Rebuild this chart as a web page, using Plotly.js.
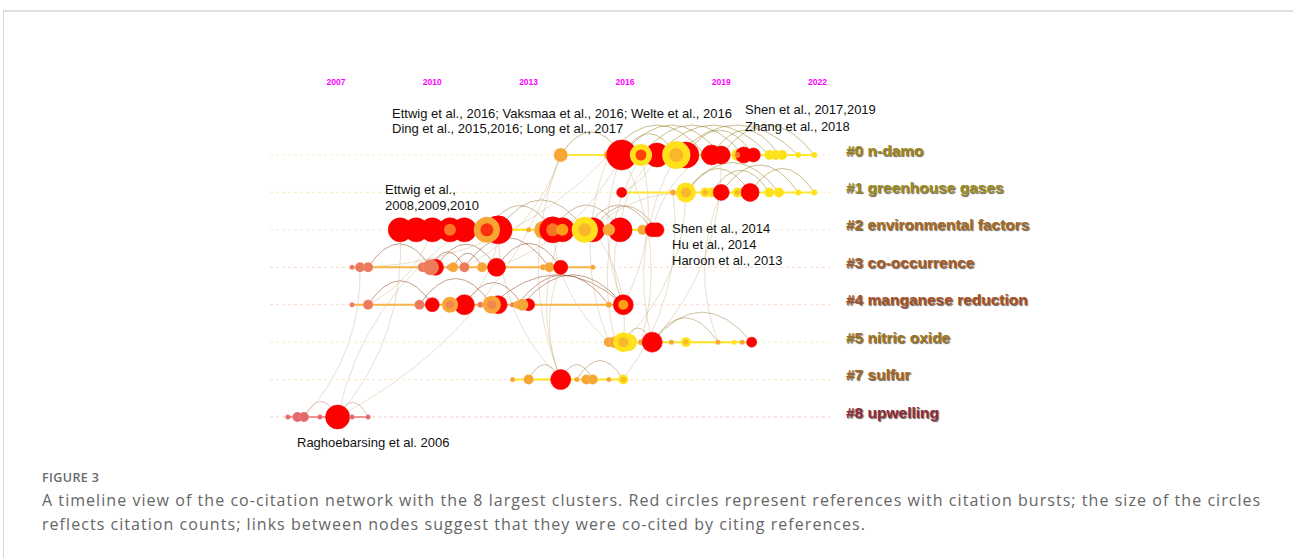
<!DOCTYPE html>
<html><head><meta charset="utf-8">
<script src="https://cdn.plot.ly/plotly-3.0.1.min.js"></script>
<style>html,body{margin:0;padding:0;background:#fff}#chart{width:1293px;height:558px}
text[data-unformatted^="A timeline"], text[data-unformatted^="reflects"]{letter-spacing:1.05px}
text[data-unformatted="FIGURE 3"]{letter-spacing:0.4px}
</style>
</head><body><div id="chart"></div>
<script>
// ---------- DATA ----------
const tickYears = [2007, 2010, 2013, 2016, 2019, 2022];
const clusterLabels = ['#0 n-damo', '#1 greenhouse gases', '#2 environmental factors', '#3 co-occurrence',
  '#4 manganese reduction', '#5 nitric oxide', '#7 sulfur', '#8 upwelling'];

const c0Years = [2014.0, 2015.5, 2015.9, 2017.0, 2016.5, 2017.9, 2017.6, 2018.5, 2018.7, 2019.0, 2019.5, 2019.7, 2020.0, 2020.5, 2020.7, 2020.9, 2021.4, 2021.9];
const c0Sizes = [14, 10, 30, 24, 22, 26, 28, 10, 20, 18, 12, 16, 14, 10, 10, 10, 6, 6];
const c0Colors = ['O','O','R','R','Y','R','Y','O','R','R','Y','R','R','Y','Y','Y','Y','Y'];
const c0Cores = ['','','','','R','','O','','','','O','','','','','','',''];

const c1Years = [2015.9, 2017.5, 2017.9, 2018.5, 2018.7, 2019.0, 2019.5, 2019.7, 2019.9, 2020.5, 2020.8, 2021.4, 2021.9];
const c1Sizes = [10, 6, 20, 10, 10, 16, 10, 10, 18, 10, 10, 6, 6];
const c1Colors = ['R','O','Y','Y','Y','R','Y','Y','R','Y','Y','Y','Y'];
const c1Cores = ['','','O','O','','','O','','','','','',''];

const c2Years = [2009.0, 2009.5, 2010.0, 2010.55, 2011.0, 2012.05, 2011.7, 2013.0, 2013.45, 2014.05, 2013.75, 2015.0, 2014.75, 2015.85, 2015.5, 2016.55, 2016.85, 2017.0];
const c2Sizes = [24, 24, 24, 24, 24, 28, 26, 5, 18, 24, 26, 24, 26, 24, 12, 10, 14, 14];
const c2Colors = ['R','R','R','R','R','R','O','O','O','R','R','R','Y','R','O','O','R','R'];
const c2Cores = ['','','','O','','','R','','','Y','O','','O','','','','',''];

const c3Years = [2007.5, 2007.75, 2008.0, 2010.1, 2009.7, 2009.95, 2010.55, 2010.65, 2011.0, 2011.55, 2012.0, 2013.45, 2013.65, 2014.0, 2015.0];
const c3Sizes = [5, 10, 10, 16, 10, 16, 6, 10, 10, 10, 18, 6, 10, 14, 5];
const c3Colors = ['C','C','C','R','C','C','C','O','C','O','R','O','O','R','O'];
const c3Cores = ['','','','','','','','','','','','','','',''];

const c4Years = [2007.5, 2008.0, 2009.6, 2010.0, 2011.0, 2010.55, 2011.5, 2012.05, 2011.85, 2012.5, 2013.0, 2012.65, 2012.8, 2015.5, 2015.95];
const c4Sizes = [5, 10, 10, 14, 20, 16, 6, 18, 18, 5, 12, 8, 12, 6, 20];
const c4Colors = ['C','C','C','R','R','O','C','R','O','C','R','O','O','O','R'];
const c4Cores = ['','','','','','C','','','C','','','','','','Y'];

const c5Years = [2015.5, 2015.7, 2016.1, 2015.95, 2016.5, 2016.85, 2017.45, 2017.9, 2018.9, 2019.4, 2019.65, 2019.95];
const c5Sizes = [10, 12, 18, 20, 6, 20, 5, 10, 5, 5, 5, 10];
const c5Colors = ['O','O','Y','Y','O','R','O','Y','O','Y','O','R'];
const c5Cores = ['','','','O','','','','O','','','',''];

const c7Years = [2012.5, 2013.0, 2014.0, 2014.5, 2014.8, 2015.0, 2015.5, 2015.95];
const c7Sizes = [5, 10, 20, 5, 10, 10, 5, 10];
const c7Colors = ['O','O','R','O','O','O','O','Y'];
const c7Cores = ['','','','','','','','O'];

const c8Years = [2005.5, 2005.8, 2006.0, 2006.5, 2007.05, 2007.5, 2008.0];
const c8Sizes = [5, 10, 10, 5, 24, 5, 5];
const c8Colors = ['P','P','P','P','R','P','P'];
const c8Cores = ['','','','','','',''];

// same-row co-citation arcs: [fromYear, toYear]
const arcs0 = [[2015.9,2017.6],[2015.9,2019.0],[2016.5,2019.7],[2017.0,2020.5],[2017.6,2021.4],[2018.7,2020.8],[2019.0,2021.9],[2015.5,2018.5],[2017.9,2020.0],[2014.0,2015.9]];
const arcs1 = [[2017.9,2019.9],[2018.7,2020.5],[2019.0,2021.4],[2017.9,2020.8],[2019.9,2021.9]];
const arcs2 = [[2011.7,2013.75],[2012.05,2014.75],[2013.75,2015.85],[2014.75,2016.85],[2015.0,2017.0]];
const arcs3 = [[2008.0,2009.95],[2009.95,2011.0],[2010.1,2012.0],[2010.65,2011.55],[2011.0,2013.65],[2012.0,2014.0]];
const arcs4 = [[2008.0,2010.0],[2009.6,2011.85],[2011.0,2012.8],[2011.85,2015.95],[2012.8,2015.95],[2012.65,2015.5]];
const arcs5 = [[2016.85,2018.9],[2016.85,2019.95],[2015.95,2016.85]];
const arcs7 = [[2013.0,2014.0],[2014.0,2015.0],[2014.5,2015.95]];
const arcs8 = [[2006.0,2007.05],[2007.05,2008.0]];

// cross-cluster links: [fromRow, fromYear, toRow, toYear]
const crossLinks = [[0,2015.9,4,2015.95],[0,2016.5,5,2015.7],[0,2015.5,5,2015.5],[0,2014.0,6,2014.0],[2,2014.05,6,2014.0],
  [2,2012.05,6,2014.0],[2,2015.85,4,2015.95],[0,2017.0,2,2015.85],[1,2015.9,0,2017.0],[7,2007.05,2,2009.0],
  [7,2007.05,0,2014.0],[7,2006.0,3,2007.75],[3,2008.0,0,2015.5],[4,2008.0,2,2010.0],[5,2015.95,2,2015.0],
  [5,2016.5,0,2015.9],[1,2019.0,5,2018.9],[4,2015.95,0,2016.5],[3,2012.0,0,2015.9],[4,2011.0,2,2012.05],
  [6,2015.95,1,2017.5],[3,2014.0,6,2014.0],[5,2015.95,1,2017.9],[2,2013.75,5,2015.5],[0,2017.6,5,2016.85],
  [2,2011.0,7,2007.05],[0,2018.5,2,2016.85],[1,2017.9,2,2015.0],[5,2016.85,0,2019.0],[3,2011.0,0,2014.0]];

const refNotes = ['Ettwig et al., 2016; Vaksmaa et al., 2016; Welte et al., 2016', 'Ding et al., 2015,2016; Long et al., 2017',
  'Shen et al., 2017,2019', 'Zhang et al., 2018', 'Ettwig et al.,', '2008,2009,2010',
  'Shen et al., 2014', 'Hu et al., 2014', 'Haroon et al., 2013', 'Raghoebarsing et al. 2006'];
const captionTitle = 'FIGURE 3';
const captionLines = ['A timeline view of the co-citation network with the 8 largest clusters. Red circles represent references with citation bursts; the size of the circles',
  'reflects citation counts; links between nodes suggest that they were co-cited by citing references.'];

// ---------- STYLE / LAYOUT ----------
const W = 1293, H = 558, TOP = 88;
const PXY = 32.1;                 // px per year
const X0 = 2007 - 336 / PXY;       // year at left edge
const X1 = X0 + W / PXY;
const ROW_PX = 37.43, ROW0 = 155;
const yRange = [(H - ROW0) / ROW_PX, -(ROW0 - TOP) / ROW_PX];
const palette = {R:'#ff0000', O:'#f7a533', Y:'#ffe11a', C:'#ee7a5c', P:'#e46868'};
const clusters = [
  [c0Years,c0Sizes,c0Colors,c0Cores,arcs0],[c1Years,c1Sizes,c1Colors,c1Cores,arcs1],
  [c2Years,c2Sizes,c2Colors,c2Cores,arcs2],[c3Years,c3Sizes,c3Colors,c3Cores,arcs3],
  [c4Years,c4Sizes,c4Colors,c4Cores,arcs4],[c5Years,c5Sizes,c5Colors,c5Cores,arcs5],
  [c7Years,c7Sizes,c7Colors,c7Cores,arcs7],[c8Years,c8Sizes,c8Colors,c8Cores,arcs8]];
const labelColors = ['#9e8614','#9c8c1c','#a4681e','#a65a26','#a44e22','#a07418','#a4661c','#8e2a3c'];
const rowLineColors = ['#ffe633','#ffe633','#ffe000','#f8b444','#f8b444','#ffe21a','#ffe21a','#f29494'];
const dashColors = ['#f7eec4','#f8f0c0','#f6ead0','#f8d8c6','#f8dac6','#f8eec8','#f8e6c6','#f6cccc'];
const arcColors = ['rgba(150,128,30,0.5)','rgba(150,128,30,0.5)','rgba(150,100,40,0.45)','rgba(150,80,50,0.55)',
  'rgba(150,80,50,0.55)','rgba(150,120,50,0.45)','rgba(150,110,50,0.45)','rgba(180,100,90,0.4)'];
const baseStart = X0 + 270 / PXY, baseEnd = X0 + 830 / PXY;

const px = y => (y - X0) * PXY;
const yearOf = p => X0 + p / PXY;
const rowPx = r => ROW0 + r * ROW_PX;
const rowOf = p => (p - ROW0) / ROW_PX;
const ax = p => p / W;
const ay = p => (H - p) / (H - TOP);

const traces = [], shapes = [], annotations = [];

clusters.forEach((c, r) => {
  const [ys, ss, cs, cores, arcs] = c;
  traces.push({x:[baseStart, baseEnd], y:[r, r], mode:'lines', hoverinfo:'skip',
    line:{color:dashColors[r], width:1, dash:'3px,3px'}});
  traces.push({x:[Math.min(...ys), Math.max(...ys)], y:[r, r], mode:'lines', hoverinfo:'skip',
    line:{color:rowLineColors[r], width:2}});
  arcs.forEach(([a, b]) => {
    const d = Math.abs(px(b) - px(a));
    const h = Math.min(6 + d * 0.28, 30);
    const yc = rowOf(rowPx(r) - 2 * h);
    shapes.push({type:'path', xref:'x', yref:'y', layer:'below',
      path:`M ${a},${r} Q ${(a + b) / 2},${yc} ${b},${r}`,
      line:{color:arcColors[r], width:1}});
  });
});

crossLinks.forEach(([r0, y0, r1, y1]) => {
  const p0x = px(y0), p0y = rowPx(r0), p1x = px(y1), p1y = rowPx(r1);
  const mx = (p0x + p1x) / 2, my = (p0y + p1y) / 2;
  const dx = p1x - p0x, dy = p1y - p0y;
  const k = 0.2;
  const cx = mx - dy * k, cy = my + dx * k;
  shapes.push({type:'path', xref:'x', yref:'y', layer:'below',
    path:`M ${y0},${r0} Q ${yearOf(cx)},${rowOf(cy)} ${y1},${r1}`,
    line:{color:'rgba(200,175,125,0.4)', width:1}});
});

clusters.forEach((c, r) => {
  const [ys, ss, cs, cores] = c;
  traces.push({x:ys, y:ys.map(() => r), mode:'markers', hoverinfo:'x',
    marker:{size:ss, color:cs.map(k => palette[k]), opacity:1,
      line:{color:cs.map(k => k === 'R' ? '#f00000' : 'rgba(255,255,255,0.25)'), width:0.6}}});
  const idx = cores.map((k, i) => k ? i : -1).filter(i => i >= 0);
  traces.push({x:idx.map(i => ys[i]), y:idx.map(() => r), mode:'markers', hoverinfo:'skip',
    marker:{size:idx.map(i => ss[i] * 0.5), color:idx.map(i => palette[cores[i]]), line:{width:0}}});
  annotations.push({xref:'paper', yref:'y', x:ax(844), y:r, yshift:5, xanchor:'left', yanchor:'middle', showarrow:false,
    text:clusterLabels[r],
    font:{family:'Liberation Sans, Arial, sans-serif', size:15.5, weight:'bold', color:labelColors[r],
      shadow:'1px 1px 1px rgba(40,40,40,0.75)'}});
});

const notePos = [[390,113],[390,129],[743,110],[743,126],[383,189],[383,205],[670,228],[670,244],[670,260],[295,442]];
refNotes.forEach((t, i) => annotations.push({xref:'paper', yref:'paper', x:ax(notePos[i][0]), y:ay(notePos[i][1]),
  xanchor:'left', yanchor:'middle', showarrow:false, text:t,
  font:{family:'Liberation Sans, Arial, sans-serif', size:13, color:'#111'}}));

annotations.push({xref:'paper', yref:'paper', x:ax(40), y:ay(477), xanchor:'left', yanchor:'middle', showarrow:false,
  text:captionTitle, font:{family:'Open Sans, sans-serif', size:12.5, weight:600, color:'#6a6a6a'}});
captionLines.forEach((t, i) => annotations.push({xref:'paper', yref:'paper', x:ax(40), y:ay(500 + i * 24),
  xanchor:'left', yanchor:'middle', showarrow:false, text:t,
  font:{family:'Open Sans, sans-serif', size:16, color:'#666'}}));

// frame of the figure box
shapes.push({type:'line', xref:'paper', yref:'paper', x0:ax(3), x1:ax(1293), y0:ay(11), y1:ay(11), line:{color:'#d6d6d6', width:1.5}});
shapes.push({type:'line', xref:'paper', yref:'paper', x0:ax(3.5), x1:ax(3.5), y0:ay(11), y1:ay(558), line:{color:'#d6d6d6', width:1}});

const layout = {
  width:W, height:H, margin:{l:0, r:0, t:TOP, b:0},
  paper_bgcolor:'#fff', plot_bgcolor:'#fff', showlegend:false,
  xaxis:{range:[X0, X1], side:'top', tickvals:tickYears, ticktext:tickYears.map(String), ticks:'',
    tickfont:{family:'Liberation Sans, Arial, sans-serif', size:8.5, weight:'bold', color:'#ff00ff'},
    showgrid:false, zeroline:false, showline:false, fixedrange:true},
  yaxis:{range:yRange, visible:false, showgrid:false, zeroline:false, fixedrange:true},
  shapes, annotations
};
Plotly.newPlot('chart', traces, layout, {displayModeBar:false, staticPlot:true});
</script></body></html>
